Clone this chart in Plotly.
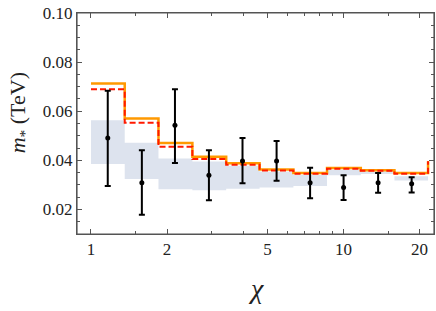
import plotly.graph_objects as go

# bin edges in chi
edges = [1.0, 1.36, 1.85, 2.52, 3.43, 4.65, 6.33, 8.6, 11.7, 15.9, 21.6]
# upper (orange) step values per bin, plus closing value at right edge
orange_vals = [0.0713, 0.0570, 0.0471, 0.0415, 0.0388, 0.0363, 0.0348, 0.0369, 0.0360, 0.0348, 0.0396]
# red dashed step values per bin, plus closing value
red_vals = [0.0689, 0.0553, 0.0455, 0.0405, 0.0382, 0.0359, 0.0345, 0.0366, 0.0358, 0.0345, 0.0396]
# shaded band
band_lo = [0.0385, 0.0324, 0.0282, 0.0278, 0.0284, 0.0289, 0.0295, 0.0339, 0.0344, 0.0318]
band_hi = [0.0563, 0.0472, 0.0407, 0.0395, 0.0378, 0.0355, 0.0340, 0.0362, 0.0356, 0.0335]
# data points with error bars
pt_x = [1.165, 1.59, 2.15, 2.93, 3.98, 5.43, 7.37, 10.0, 13.7, 18.6]
pt_y = [0.0491, 0.0309, 0.0543, 0.0339, 0.0397, 0.0397, 0.0309, 0.0289, 0.0309, 0.0305]
pt_hi = [0.0683, 0.0441, 0.0689, 0.0441, 0.0491, 0.0479, 0.0370, 0.0339, 0.0348, 0.0331]
pt_lo = [0.0295, 0.0178, 0.0389, 0.0237, 0.0307, 0.0317, 0.0246, 0.0238, 0.0268, 0.0269]

x_major = [1, 2, 5, 10, 20]
x_minor = [1.5, 3, 4, 6, 7, 8, 9, 15]
y_major = [0.02, 0.04, 0.06, 0.08, 0.10]
y_major_text = ["0.02", "0.04", "0.06", "0.08", "0.10"]
y_minor = [0.015, 0.025, 0.03, 0.035, 0.045, 0.05, 0.055, 0.065, 0.07, 0.075, 0.085, 0.09, 0.095]

X_RANGE = [-0.0554, 1.358]
Y_RANGE = [0.01, 0.10]

fig = go.Figure()

lo_ext = band_lo + [band_lo[-1]]
hi_ext = band_hi + [band_hi[-1]]
fig.add_trace(go.Scatter(x=edges, y=lo_ext, mode="lines", line=dict(width=0, shape="hv"),
                         showlegend=False, hoverinfo="skip"))
fig.add_trace(go.Scatter(x=edges, y=hi_ext, mode="lines", line=dict(width=0, shape="hv"),
                         fill="tonexty", fillcolor="#dde3ee", showlegend=False, hoverinfo="skip"))

fig.add_trace(go.Scatter(x=edges, y=orange_vals, mode="lines",
                         line=dict(color="#ff9900", width=2.5, shape="hv"), showlegend=False))
fig.add_trace(go.Scatter(x=edges, y=red_vals, mode="lines",
                         line=dict(color="#ff1a00", width=2, shape="hv", dash="6px,3px"), showlegend=False))

fig.add_trace(go.Scatter(
    x=pt_x, y=pt_y, mode="markers",
    marker=dict(color="black", size=5),
    error_y=dict(type="data", symmetric=False,
                 array=[h - y for h, y in zip(pt_hi, pt_y)],
                 arrayminus=[y - l for l, y in zip(pt_lo, pt_y)],
                 color="black", thickness=2, width=3),
    showlegend=False))

axis_font = dict(family="Liberation Serif", size=17, color="#222")
frame = "#555555"

fig.update_layout(
    xaxis=dict(type="log", range=X_RANGE,
               tickvals=x_major, ticktext=[str(v) for v in x_major],
               ticks="inside", ticklen=5, tickcolor=frame, tickwidth=1,
               showline=True, linecolor=frame, linewidth=1, mirror="allticks",
               showgrid=False, zeroline=False, tickfont=axis_font),
    yaxis=dict(range=Y_RANGE,
               tickvals=y_major, ticktext=y_major_text,
               ticks="inside", ticklen=5, tickcolor=frame, tickwidth=1,
               showline=True, linecolor=frame, linewidth=1, mirror="allticks",
               showgrid=False, zeroline=False, tickfont=axis_font),
    xaxis2=dict(type="log", range=X_RANGE, overlaying="x", anchor="y",
                tickvals=x_minor, ticktext=[""] * len(x_minor),
                ticks="inside", ticklen=3, tickcolor=frame, tickwidth=1,
                showline=False, mirror="allticks", showgrid=False, zeroline=False),
    yaxis2=dict(range=Y_RANGE, overlaying="y", anchor="x",
                tickvals=y_minor, ticktext=[""] * len(y_minor),
                ticks="inside", ticklen=3, tickcolor=frame, tickwidth=1,
                showline=False, mirror="allticks", showgrid=False, zeroline=False),
)
# invisible trace to activate minor-tick axes
fig.add_trace(go.Scatter(x=[pt_x[0]], y=[pt_y[0]], xaxis="x2", yaxis="y2", mode="markers",
                         marker=dict(opacity=0), showlegend=False, hoverinfo="skip"))

# plot frame
fig.add_shape(type="rect", xref="paper", yref="paper", x0=0, y0=0, x1=1, y1=1,
              line=dict(color=frame, width=1.2), layer="above")

fig.add_annotation(text="<i>χ</i>", x=0.5, y=-0.245, xref="paper", yref="paper",
                   xanchor="center", yanchor="middle",
                   showarrow=False, font=dict(family="Liberation Serif", size=28, color="#222"))
fig.add_annotation(text="<i>m</i><sub>*</sub> (TeV)",
                   x=-0.16, y=0.55, xref="paper", yref="paper", textangle=-90,
                   xanchor="center", yanchor="middle",
                   showarrow=False, font=dict(family="Liberation Serif", size=22, color="#222"))

fig.update_layout(width=436, height=311, margin=dict(l=77, r=2, t=13, b=77),
                  plot_bgcolor="white", paper_bgcolor="white")

fig.write_html("out.html", config={"displayModeBar": False},
               post_script="document.body.style.margin='0';")
